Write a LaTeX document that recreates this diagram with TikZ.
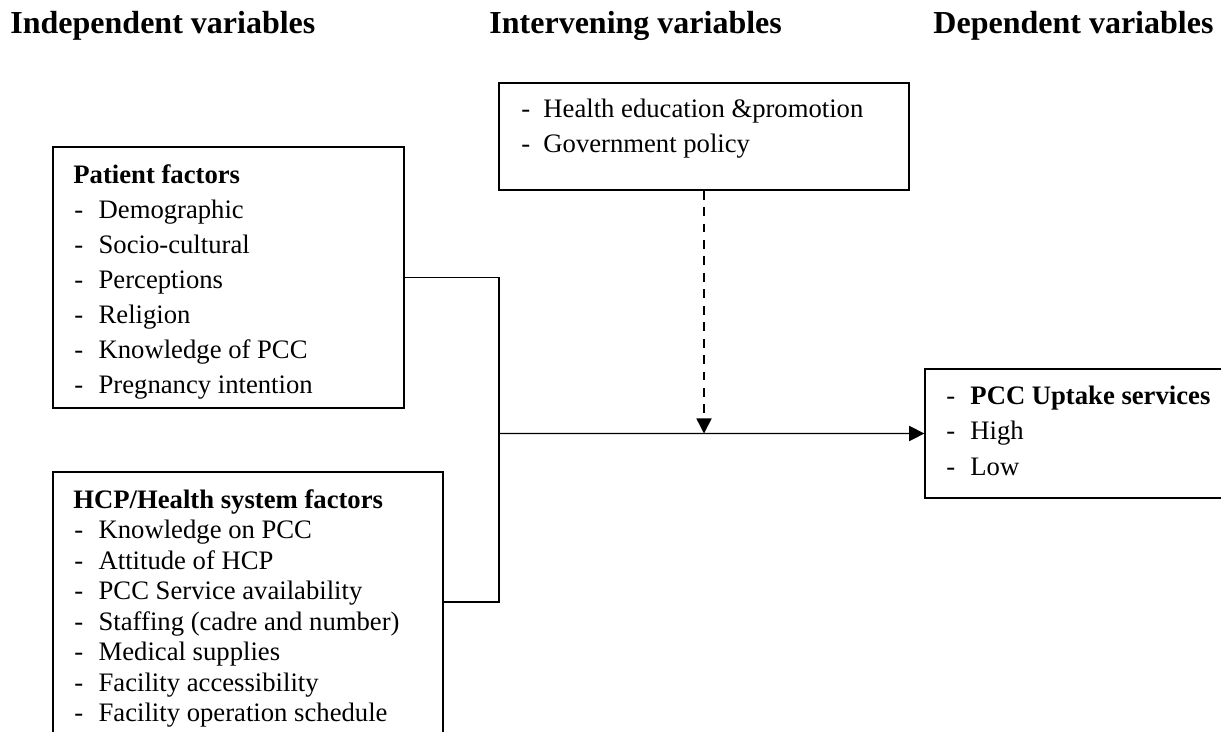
\documentclass[tikz,border=0pt]{standalone}
\usepackage{fontspec}
\setmainfont{Liberation Serif}
\usetikzlibrary{arrows.meta,fit}
\newcommand\dashitem[2]{\makebox[#1][l]{-}#2}
\begin{document}
\begin{tikzpicture}[x=0.45pt,y=-0.45pt,
  box/.style={draw, line width=0.6pt, inner sep=0pt},
  txt/.style={anchor=base west, inner sep=0pt, font=\fontsize{12}{14}\selectfont},
  ttl/.style={anchor=base west, inner sep=0pt, font=\fontsize{14.4}{17}\selectfont\bfseries},
  conn/.style={line width=0.65pt},
  tip/.style={-{Triangle[length=6.8pt,width=6.8pt]}}]
\path[use as bounding box] (0,0) rectangle (1221,731);
\clip (0,0) rectangle (1221,731);
% titles
\node[ttl] (tind) at (10,33) {Independent variables};
\node[ttl] (tint) at (489,33) {Intervening variables};
\node[ttl] (tdep) at (933,33) {Dependent variables};
% boxes
\node[box, fit={(53,147) (404,408)}] (pat) {};
\node[box, fit={(53,472) (443,745)}] (hcp) {};
\node[box, fit={(499,83) (909,190)}] (mid) {};
\node[box, fit={(925,369) (1228,498)}] (out) {};
% patient text
\node[txt, font=\fontsize{12}{14}\selectfont\bfseries] (p0) at (73,183) {Patient factors};
\node[txt] (p1) at (74,218) {\dashitem{10.9pt}{Demographic}};
\node[txt] (p2) at (74,253) {\dashitem{10.9pt}{Socio-cultural}};
\node[txt] (p3) at (74,288) {\dashitem{10.9pt}{Perceptions}};
\node[txt] (p4) at (74,323) {\dashitem{10.9pt}{Religion}};
\node[txt] (p5) at (74,358) {\dashitem{10.9pt}{Knowledge of PCC}};
\node[txt] (p6) at (74,393) {\dashitem{10.9pt}{Pregnancy intention}};
% hcp text
\node[txt, font=\fontsize{12}{14}\selectfont\bfseries] (h0) at (73,508) {HCP/Health system factors};
\node[txt] (h1) at (74,538.5) {\dashitem{10.9pt}{Knowledge on PCC}};
\node[txt] (h2) at (74,569) {\dashitem{10.9pt}{Attitude of HCP}};
\node[txt] (h3) at (74,599.5) {\dashitem{10.9pt}{PCC Service availability}};
\node[txt] (h4) at (74,630) {\dashitem{10.9pt}{Staffing (cadre and number)}};
\node[txt] (h5) at (74,660.5) {\dashitem{10.9pt}{Medical supplies}};
\node[txt] (h6) at (74,691) {\dashitem{10.9pt}{Facility accessibility}};
\node[txt] (h7) at (74,721.5) {\dashitem{10.9pt}{Facility operation schedule}};
% intervening text
\node[txt] (m1) at (521,117) {\dashitem{9.9pt}{Health education \&promotion}};
\node[txt] (m2) at (521,152) {\dashitem{9.9pt}{Government policy}};
% outcome text
\node[txt] (o1) at (946,404) {\dashitem{10.8pt}{\bfseries PCC Uptake services}};
\node[txt] (o2) at (946,439.5) {\dashitem{10.8pt}{High}};
\node[txt] (o3) at (946,475) {\dashitem{10.8pt}{Low}};
% connectors
\coordinate (jm) at (499,433.5);
\coordinate (hy) at (0,602);
\coordinate (hj) at (hcp.north east |- hy);
\coordinate (dm) at (mid.south |- out.west);
\draw[conn] (pat.east) -| (jm) |- (hj);
\draw[conn, tip] (jm) -- (out.west);
\draw[conn, tip, dash pattern=on 4pt off 3.4pt] (mid.south) -- (dm);
\end{tikzpicture}
\end{document}
